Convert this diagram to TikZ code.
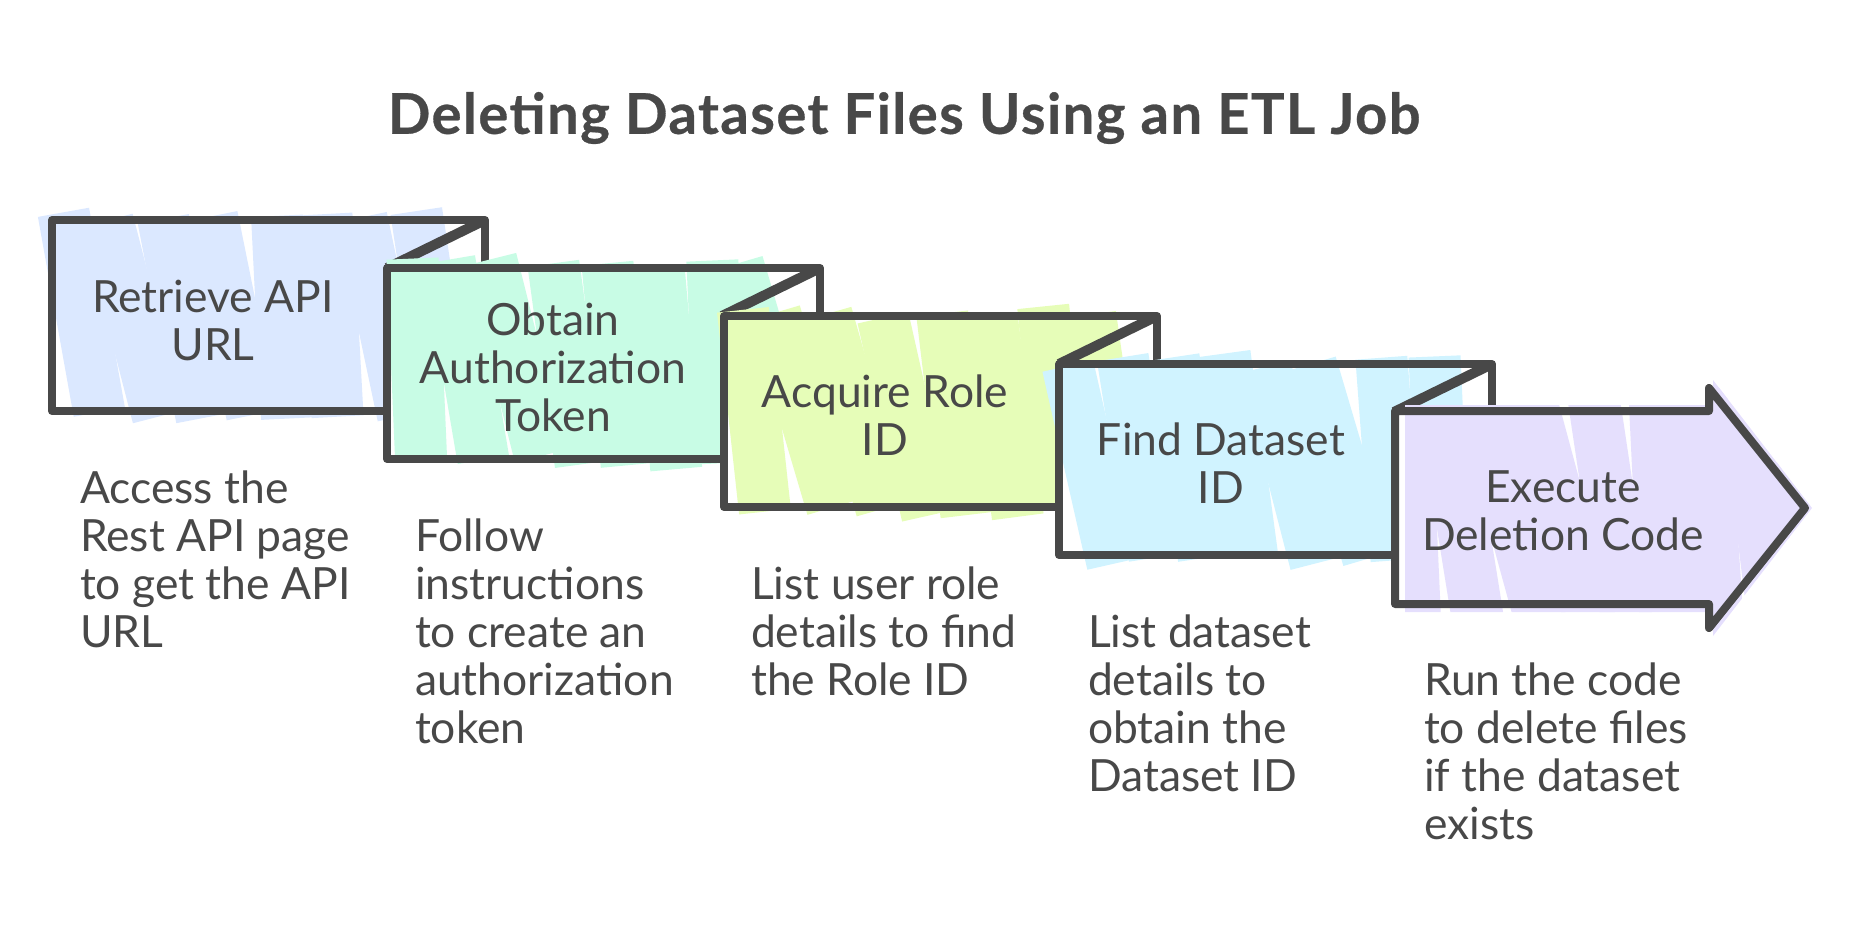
\documentclass[tikz,border=0pt]{standalone}
\usepackage{fontspec}
\setmainfont{Lato}
\newfontfamily\headingfont[LetterSpace=2.5,FakeBold=0.5]{Lato Bold}
\definecolor{inkgray}{HTML}{484848}
\definecolor{fillblue}{HTML}{DBE8FF}
\definecolor{fillmint}{HTML}{C8FCE5}
\definecolor{filllime}{HTML}{E6FDB8}
\definecolor{fillsky}{HTML}{D0F3FF}
\definecolor{fillviolet}{HTML}{E5DFFD}
\newcommand{\sketchfill}[5]{%
    \foreach \off in {0,50,...,#4} {
        \pgfmathsetmacro{\tilt}{2+rnd*15}
        \pgfmathsetmacro{\jit}{rnd*12}
        \fill[#1,rotate around={\tilt:(#2+\off+30,#3+#5/2)}] (#2+\off+4,#3-12+\jit) rectangle (#2+\off+56,#3+#5+\jit);
    }
}
\tikzset{
    outline/.style={draw=inkgray,line width=4pt,line join=round,line cap=round},
    foldline/.style={draw=inkgray,line width=5pt},
    steplabel/.style={text=inkgray,align=center,font=\fontsize{22.2}{24}\selectfont},
    note/.style={text=inkgray,align=left,anchor=north west,font=\fontsize{22.2}{24}\selectfont},
    heading/.style={text=inkgray,font=\fontsize{28.1}{30}\headingfont}
}
\begin{document}
\begin{tikzpicture}[x=0.5pt,y=-0.5pt]
                \useasboundingbox (0,0) rectangle (1857,944);
                \pgfmathsetseed{41}

                \foreach \l/\t/\c in {52/220/fillblue,387/268/fillmint,724/316/filllime,1059/364/fillsky} {
                    \fill[white] (\l,\t) rectangle (\l+433,\t+191);
                    \sketchfill{\c}{\l}{\t}{370}{191}
                    \draw[outline] (\l,\t) -- (\l+433,\t) -- (\l+433,\t+48) (\l,\t) -- (\l,\t+191) -- (\l+433,\t+191);
                    \draw[foldline] (\l+429,\t+2) -- (\l+335,\t+48);
                }

                \fill[white] (1395,411) -- (1709,411) -- (1709,388) -- (1805,508) -- (1709,628) -- (1709,604) -- (1395,604) -- cycle;
                \begin{scope}
                    \clip (1405,405) -- (1713,405) -- (1713,380) -- (1812,508) -- (1713,636) -- (1713,612) -- (1405,612) -- cycle;
                    \sketchfill{fillviolet}{1380}{380}{420}{256}
                \end{scope}
                \draw[outline] (1395,411) -- (1709,411) -- (1709,388) -- (1805,508) -- (1709,628) -- (1709,604) -- (1395,604) -- cycle;

                \node[heading] (title) at (904,118) {Deleting Dataset Files Using an ETL Job};

                \node[steplabel] (retrieve) at (213,320) {Retrieve API\\URL};
                \node[steplabel] (obtain) at (553,367) {Obtain\\Authorization\\Token};
                \node[steplabel] (acquire) at (885,415) {Acquire Role\\ID};
                \node[steplabel] (find) at (1221,463) {Find Dataset\\ID};
                \node[steplabel] (execute) at (1563,511) {Execute\\Deletion Code};

                \node[note] (access) at (73,464) {Access the\\Rest API page\\to get the API\\URL};
                \node[note] (follow) at (408,512) {Follow\\instructions\\to create an\\authorization\\token};
                \node[note] (listrole) at (744,560) {List user role\\details to find\\the Role ID};
                \node[note] (listdata) at (1081,608) {List dataset\\details to\\obtain the\\Dataset ID};
                \node[note] (run) at (1417,656) {Run the code\\to delete files\\if the dataset\\exists};
            \end{tikzpicture}
\end{document}
